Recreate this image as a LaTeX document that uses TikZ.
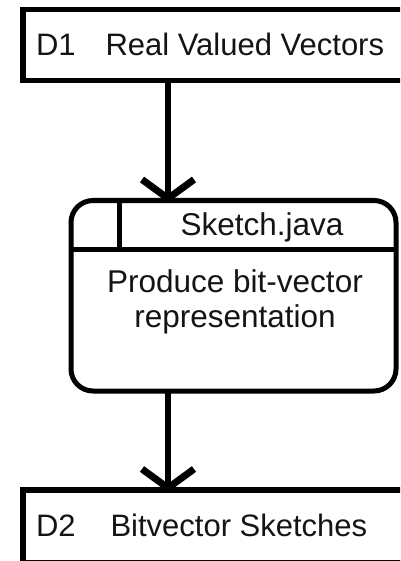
\documentclass[tikz,border=0pt]{standalone}
\usepackage{fontspec}
\setmainfont{Liberation Sans}
\usetikzlibrary{calc}

\begin{document}
\begin{tikzpicture}[x=1pt, y=-1pt,
  every node/.style={inner sep=0pt, outer sep=0pt},
  txt/.style={font=\fontsize{31}{36}\selectfont, text=black!92},
  ptxt/.style={font=\fontsize{31.5}{36}\selectfont, text=black!92},
  storebox/.style={minimum width=397pt, minimum height=71pt},
  storeline/.style={line width=5.5pt, line join=miter},
  procbox/.style={draw, line width=5pt, rounded corners=22pt,
    minimum width=325pt, minimum height=190.5pt},
  shaft/.style={line width=6pt},
  chevron/.style={line width=7pt, line join=round}]

  \useasboundingbox (0,0) rectangle (400,561);
  \clip (0,0) rectangle (400,561);
  \fill[white] (0,0) rectangle (400,561);

  % data store D1 (open on the right)
  \node[storebox] (d1) at (221.5,45) {};
  \draw[storeline] (d1.north east) -- (d1.north west) -- (d1.south west) -- (d1.south east);
  \node[txt, anchor=base west] (d1id) at (36,55.5) {D1};
  \node[txt, anchor=base west] (d1name) at (105.5,55.5) {Real Valued Vectors};

  % process box with header
  \node[procbox] (p) at (233.5,295.75) {};
  \draw[line width=5pt] ([yshift=-49pt]p.north west) -- ([yshift=-49pt]p.north east);
  \draw[line width=5pt] ([xshift=48.5pt]p.north west) -- ([xshift=48.5pt,yshift=-49pt]p.north west);
  \node[ptxt, anchor=base] (pid) at (262,235.5) {Sketch.java};
  \node[ptxt, anchor=base] (pl1) at (235,292) {Produce bit-vector};
  \node[ptxt, anchor=base] (pl2) at (235,327.5) {representation};

  % data store D2 (open on the right)
  \node[storebox, minimum height=72.5pt] (d2) at (221.5,526.25) {};
  \draw[storeline] (d2.north east) -- (d2.north west) -- (d2.south west) -- (d2.south east);
  \node[txt, anchor=base west] (d2id) at (36,536.5) {D2};
  \node[txt, anchor=base west] (d2name) at (110.5,536.5) {Bitvector Sketches};

  % flows
  \coordinate (ax) at (168,0);
  \coordinate (tip1) at (ax |- p.north);
  \coordinate (tip2) at (ax |- d2.north);
  \draw[shaft] (ax |- d1.south) -- ($(tip1)+(0,-2)$);
  \draw[chevron] ($(tip1)+(-26,-21)$) -- ($(tip1)+(0,-2)$) -- ($(tip1)+(26,-21)$);
  \draw[shaft] (ax |- p.south) -- ($(tip2)+(0,-2)$);
  \draw[chevron] ($(tip2)+(-26,-21)$) -- ($(tip2)+(0,-2)$) -- ($(tip2)+(26,-21)$);
\end{tikzpicture}
\end{document}
